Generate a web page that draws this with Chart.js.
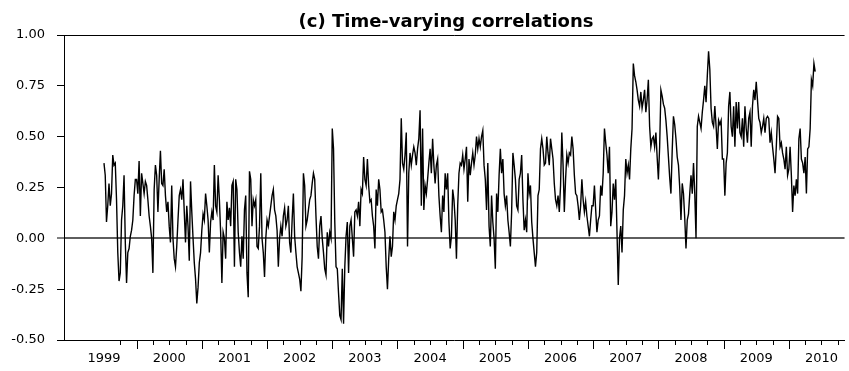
<!DOCTYPE html>
<html><head><meta charset="utf-8">
<script src="https://cdn.jsdelivr.net/npm/chart.js@4.4.1/dist/chart.umd.min.js"></script>
<style>html,body{margin:0;padding:0;background:#fff;}#wrap{width:849px;height:371px;position:relative;}</style>
</head><body><div id="wrap"><canvas id="c"></canvas></div>
<script>
const chartTitle = "(c) Time-varying correlations";
const yearLabels = [1999,2000,2001,2002,2003,2004,2005,2006,2007,2008,2009,2010];
const yTickValues = [-0.5,-0.25,0,0.25,0.5,0.75,1];
// weekly values, 1999 starts mid-year
const corr1999 = [0.37,0.31,0.08,0.16,0.27,0.16,0.22,0.41,0.36,0.37,0.19,-0.07,-0.21,-0.17,0.09,0.16,0.31,-0.02,-0.22,-0.07,-0.05,0.01,0.04,0.09,0.21,0.29];
const corr2000 = [0.29,0.22,0.38,0.11,0.32,0.27,0.22,0.28,0.26,0.19,0.11,0.06,0.00,-0.17,0.24,0.36,0.31,0.13,0.29,0.43,0.27,0.26,0.34,0.21,0.13,0.18,0.06,-0.02,0.26,0.00,-0.10,-0.14,-0.04,0.09,0.21,0.24,0.19,0.29,0.13,-0.02,0.16,0.06,-0.11,0.28,0.13,0.00,-0.12,-0.20,-0.32,-0.24,-0.12,-0.07];
const corr2001 = [0.04,0.12,0.09,0.22,0.16,0.09,-0.07,0.08,0.13,0.09,0.36,0.16,0.13,0.31,0.19,0.03,-0.22,0.03,0.00,-0.10,0.18,0.09,0.15,0.06,0.26,0.28,-0.14,0.29,0.24,0.03,-0.07,-0.14,0.01,-0.10,0.14,0.21,-0.17,-0.29,0.33,0.29,0.06,0.19,0.16,0.19,-0.04,-0.05,0.06,0.32,0.00,-0.07,-0.19,0.00];
const corr2002 = [0.09,0.06,0.11,0.16,0.21,0.24,0.14,0.11,0.04,-0.14,0.00,0.06,0.01,0.11,0.15,0.06,0.09,0.16,-0.02,-0.07,0.09,0.22,0.01,-0.07,-0.14,-0.17,-0.20,-0.26,-0.09,0.32,0.26,0.06,0.09,0.14,0.19,0.21,0.27,0.32,0.29,0.11,-0.04,-0.10,0.06,0.11,0.00,-0.07,-0.15,-0.18,0.03,-0.04,0.03,0.00];
const corr2003 = [0.54,0.44,0.08,-0.14,-0.15,-0.27,-0.38,-0.40,-0.15,-0.42,-0.14,0.01,0.08,-0.17,0.06,0.09,0.00,-0.09,0.13,0.14,0.11,0.18,0.06,0.24,0.22,0.40,0.29,0.26,0.39,0.26,0.18,0.19,0.11,0.06,-0.05,0.24,0.16,0.29,0.24,0.13,0.14,0.09,0.03,-0.14,-0.25,-0.10,0.01,-0.09,-0.04,0.13,0.09,0.16];
const corr2004 = [0.19,0.22,0.29,0.59,0.37,0.34,0.41,0.52,-0.04,0.32,0.42,0.36,0.41,0.45,0.42,0.36,0.44,0.49,0.63,0.16,0.54,0.14,0.26,0.22,0.29,0.37,0.44,0.32,0.49,0.36,0.27,0.36,0.39,0.21,0.11,0.03,0.21,0.13,0.32,0.24,0.32,0.08,-0.05,0.01,0.24,0.19,0.09,-0.10,0.16,0.32,0.37,0.36];
const corr2005 = [0.41,0.34,0.39,0.45,0.18,0.39,0.31,0.37,0.42,0.36,0.41,0.50,0.44,0.49,0.45,0.50,0.53,0.36,0.29,0.14,0.37,0.06,-0.04,0.21,0.08,0.00,-0.15,0.22,0.13,0.31,0.44,0.32,0.39,0.22,0.16,0.21,0.09,0.03,-0.04,0.13,0.42,0.36,0.29,0.16,0.14,0.29,0.32,0.41,0.19,0.04,0.09,0.03];
const corr2006 = [0.32,0.22,0.26,0.08,0.00,-0.07,-0.14,-0.07,0.21,0.24,0.44,0.49,0.44,0.36,0.37,0.50,0.42,0.36,0.49,0.44,0.39,0.27,0.19,0.16,0.21,0.13,0.26,0.52,0.36,0.13,0.29,0.41,0.37,0.42,0.41,0.50,0.44,0.31,0.22,0.21,0.16,0.09,0.16,0.29,0.19,0.13,0.18,0.11,0.06,0.01,0.09,0.16];
const corr2007 = [0.16,0.26,0.14,0.03,0.09,0.11,0.26,0.21,0.32,0.54,0.47,0.41,0.32,0.45,0.06,0.13,0.27,0.19,0.29,0.03,-0.23,0.00,0.06,-0.07,0.14,0.21,0.39,0.32,0.36,0.29,0.44,0.54,0.86,0.80,0.77,0.73,0.68,0.65,0.72,0.64,0.68,0.73,0.62,0.68,0.78,0.55,0.45,0.49,0.50,0.45,0.52,0.40];
const corr2008 = [0.29,0.45,0.73,0.70,0.66,0.64,0.58,0.50,0.40,0.30,0.22,0.43,0.60,0.56,0.49,0.40,0.36,0.25,0.09,0.27,0.22,0.10,-0.05,0.09,0.12,0.22,0.31,0.22,0.37,0.22,0.00,0.55,0.60,0.57,0.54,0.62,0.68,0.75,0.67,0.80,0.92,0.83,0.64,0.57,0.55,0.65,0.55,0.44,0.58,0.56,0.58,0.39];
const corr2009 = [0.39,0.21,0.37,0.42,0.65,0.72,0.55,0.50,0.65,0.45,0.67,0.54,0.67,0.52,0.50,0.59,0.45,0.65,0.54,0.47,0.59,0.62,0.45,0.65,0.73,0.68,0.77,0.68,0.59,0.57,0.52,0.55,0.59,0.52,0.59,0.60,0.59,0.47,0.52,0.45,0.39,0.32,0.45,0.60,0.59,0.45,0.47,0.42,0.39,0.34,0.45,0.31];
const corr2010 = [0.34,0.45,0.31,0.13,0.26,0.21,0.29,0.22,0.49,0.54,0.39,0.37,0.32,0.40,0.22,0.44,0.45,0.54,0.78,0.75,0.86,0.82];

const yearSeries = [[1999.5,corr1999],[2000,corr2000],[2001,corr2001],[2002,corr2002],[2003,corr2003],[2004,corr2004],[2005,corr2005],[2006,corr2006],[2007,corr2007],[2008,corr2008],[2009,corr2009],[2010,corr2010]];
const points = [];
yearSeries.forEach(([start, vals]) => vals.forEach((v, i) => points.push({x: start + i / 52, y: v})));

const FONT = '"DejaVu Sans", sans-serif';

const decor = {
  id: 'decor',
  afterDraw(chart) {
    const ctx = chart.ctx, xs = chart.scales.x, ca = chart.chartArea;
    ctx.save();
    ctx.strokeStyle = '#000'; ctx.lineWidth = 1;
    for (let y = yearLabels[0]; y <= yearLabels[yearLabels.length - 1]; y++) {
      for (let q = 0; q < 4; q++) {
        const v = y + q * 0.25;
        if (v < yearLabels[0] + 0.75) continue;
        const px = Math.round(xs.getPixelForValue(v)) + 0.5;
        if (px > ca.right) continue;
        ctx.beginPath();
        ctx.moveTo(px, ca.bottom);
        ctx.lineTo(px, ca.bottom + (q === 0 ? 9 : 5));
        ctx.stroke();
      }
    }
    ctx.fillStyle = '#000';
    ctx.font = 'bold 18px ' + FONT;
    ctx.textAlign = 'center';
    ctx.textBaseline = 'alphabetic';
    ctx.fillText(chartTitle, 446, 27);
    ctx.restore();
  }
};

new Chart(document.getElementById('c'), {
  type: 'line',
  data: { datasets: [{ data: points, borderColor: '#000', borderWidth: 1.4, pointRadius: 0, tension: 0, fill: false }] },
  options: {
    responsive: true, maintainAspectRatio: false, animation: false, devicePixelRatio: 1,
    layout: { padding: { top: 35, left: 0, right: 0, bottom: 0 } },
    plugins: { legend: { display: false }, title: { display: false }, tooltip: { enabled: false } },
    scales: {
      x: {
        type: 'linear', min: 1998.887, max: 2010.854,
        afterBuildTicks: s => { s.ticks = yearLabels.map(y => ({ value: y + 0.5 })); },
        afterFit: s => { s.height = 31; },
        ticks: { autoSkip: false, maxRotation: 0, padding: 11, color: '#000', font: { family: FONT, size: 13 }, callback: v => String(Math.floor(v)) },
        grid: { display: true, drawOnChartArea: false, drawTicks: false },
        border: { display: true, color: '#000', width: 1 }
      },
      y: {
        min: -0.5, max: 1,
        afterBuildTicks: s => { s.ticks = yTickValues.map(v => ({ value: v })); },
        afterFit: s => { s.width = 64; },
        ticks: { padding: 12, color: '#000', font: { family: FONT, size: 13 }, callback: v => Number(v).toFixed(2) },
        grid: {
          drawOnChartArea: true, drawTicks: true, tickLength: 7, tickColor: '#000', tickWidth: 1,
          color: c => (c.tick && c.tick.value === 0) ? '#5e5e5e' : ((c.tick && c.tick.value === 1) ? '#000' : 'rgba(0,0,0,0)'),
          lineWidth: c => (c.tick && c.tick.value === 0) ? 2 : 1
        },
        border: { display: true, color: '#000', width: 1 }
      }
    }
  },
  plugins: [decor]
});
</script></body></html>
